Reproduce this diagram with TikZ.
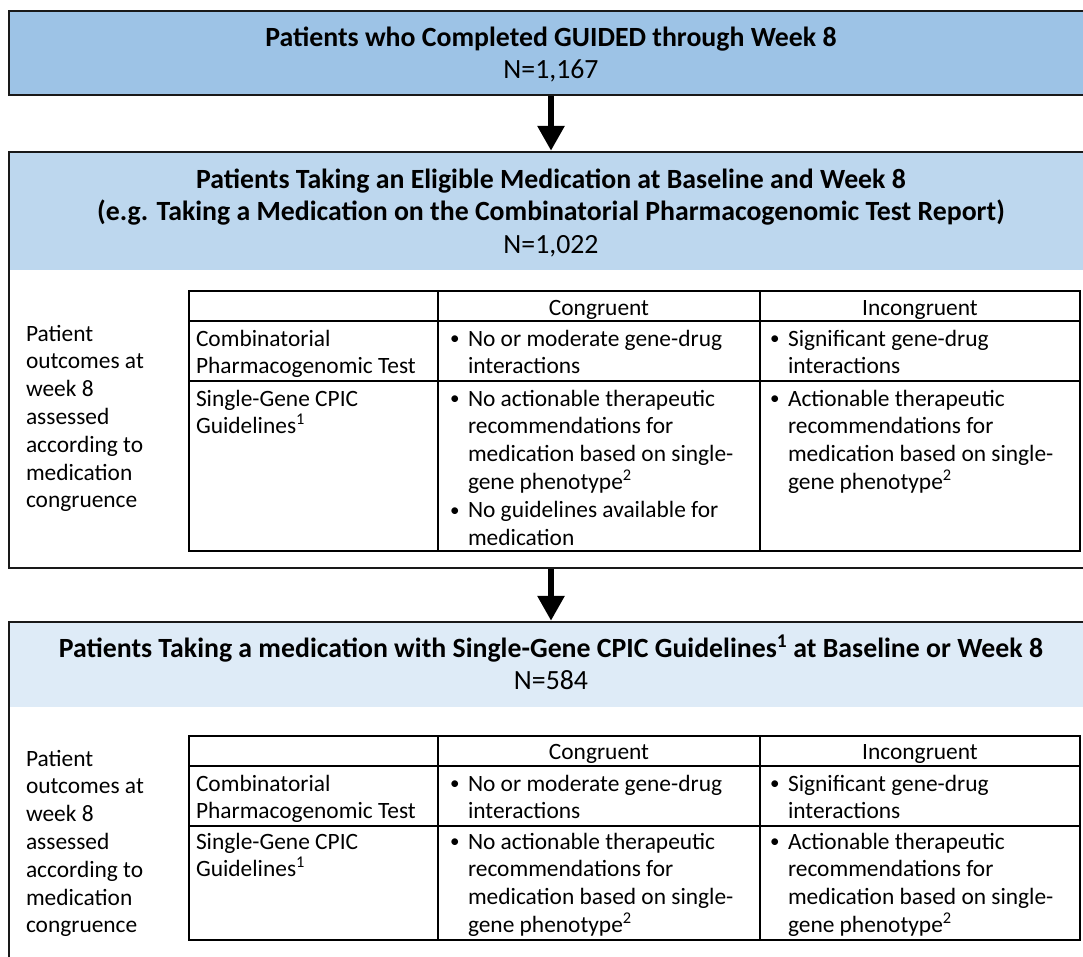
\documentclass[tikz,border=0pt]{standalone}
\usepackage{fontspec}
\setmainfont{Carlito}
\usetikzlibrary{arrows.meta}
\definecolor{hdA}{HTML}{9DC3E6}
\definecolor{hdB}{HTML}{BDD7EE}
\definecolor{hdC}{HTML}{DEEBF7}
\newcommand\bodyf{\fontsize{23.4}{27.8}\selectfont}
\newcommand\headf{\fontsize{27.8}{32.8}\selectfont}
\newcommand\bitem[1]{\par\hangindent=19pt\hangafter=1\noindent\makebox[19pt][l]{\hspace{1pt}\raisebox{1.2pt}{\fontsize{19}{19}\selectfont\textbullet}}{\let\\\newline #1}}
\newcommand\cellbox[2]{\parbox[t]{#1}{\raggedright\bodyf #2}}
\tikzset{
  bigbox/.style={draw=black!90, line width=2.5pt, minimum width=1084pt, inner sep=0pt},
  tline/.style={draw=black, line width=2pt},
  arr/.style={line width=6pt, -{Triangle[length=25pt,width=26pt]}},
  txt/.style={anchor=base west, inner sep=0pt, outer sep=0pt},
  ctxt/.style={anchor=base, inner sep=0pt, outer sep=0pt}
}
\begin{document}
\begin{tikzpicture}[x=1pt,y=-1pt]
\useasboundingbox (0,0) rectangle (1083,956);
\clip (0,0) rectangle (1083,956);
% header fills
\fill[hdB] (9,152) rectangle (1093,270);
\fill[hdC] (9,622) rectangle (1093,707);
% boxes
\node[bigbox, fill=hdA, minimum height=84pt] (b1) at (551,53) {};
\node[bigbox, minimum height=416pt] (b2) at (551,360) {};
\node[bigbox, minimum height=400pt] (b3) at (551,822) {};
% connectors
\draw[arr] (b1.south) -- (b2.north);
\draw[arr] (b2.south) -- (b3.north);
% headings
\node[ctxt] (h1) at (551,46) {\parbox[t]{1070pt}{\centering\headf\bfseries Patients who Completed GUIDED through Week 8\\\mdseries N=1,167}};
\node[ctxt] (h2) at (551,188) {\parbox[t]{1070pt}{\centering\headf\bfseries Patients Taking an Eligible Medication at Baseline and Week 8\\(e.g. Taking a Medication on the Combinatorial Pharmacogenomic Test Report)\\\mdseries N=1,022}};
\node[ctxt] (h3) at (551,657) {\parbox[t]{1070pt}{\centering\headf\bfseries Patients Taking a medication with Single-Gene CPIC Guidelines\textsuperscript{1} at Baseline or Week 8\\\mdseries N=584}};
% table 1
\draw[tline] (189,291) rectangle (1080,551);
\draw[tline] (189,321) -- (1080,321);
\draw[tline] (189,381) -- (1080,381);
\draw[tline] (438,291) -- (438,551);
\draw[tline] (760,291) -- (760,551);
\node[txt] (l1) at (26,341) {\cellbox{160pt}{Patient\\outcomes at\\week 8\\assessed\\according to\\medication\\congruence}};
\node[ctxt] (c1h2) at (599,315) {\bodyf Congruent};
\node[ctxt] (c1h3) at (920,315) {\bodyf Incongruent};
\node[txt] (c1a1) at (196,346) {\cellbox{240pt}{Combinatorial\\Pharmacogenomic Test}};
\node[txt] (c1a2) at (449,346) {\cellbox{305pt}{\bitem{No or moderate gene-drug\\interactions}}};
\node[txt] (c1a3) at (769,346) {\cellbox{305pt}{\bitem{Significant gene-drug\\interactions}}};
\node[txt] (c1b1) at (196,406) {\cellbox{240pt}{Single-Gene CPIC\\Guidelines\textsuperscript{1}}};
\node[txt] (c1b2) at (449,406) {\cellbox{305pt}{\bitem{No actionable therapeutic\\recommendations for\\medication based on single-\\gene phenotype\textsuperscript{2}}\bitem{No guidelines available for\\medication}}};
\node[txt] (c1b3) at (769,406) {\cellbox{305pt}{\bitem{Actionable therapeutic\\recommendations for\\medication based on single-\\gene phenotype\textsuperscript{2}}}};
% table 2
\draw[tline] (189,736) rectangle (1080,940);
\draw[tline] (189,766) -- (1080,766);
\draw[tline] (189,826) -- (1080,826);
\draw[tline] (438,736) -- (438,940);
\draw[tline] (760,736) -- (760,940);
\node[txt] (l2) at (26,766) {\cellbox{160pt}{Patient\\outcomes at\\week 8\\assessed\\according to\\medication\\congruence}};
\node[ctxt] (c2h2) at (599,759) {\bodyf Congruent};
\node[ctxt] (c2h3) at (920,759) {\bodyf Incongruent};
\node[txt] (c2a1) at (196,791) {\cellbox{240pt}{Combinatorial\\Pharmacogenomic Test}};
\node[txt] (c2a2) at (449,791) {\cellbox{305pt}{\bitem{No or moderate gene-drug\\interactions}}};
\node[txt] (c2a3) at (769,791) {\cellbox{305pt}{\bitem{Significant gene-drug\\interactions}}};
\node[txt] (c2b1) at (196,849) {\cellbox{240pt}{Single-Gene CPIC\\Guidelines\textsuperscript{1}}};
\node[txt] (c2b2) at (449,849) {\cellbox{305pt}{\bitem{No actionable therapeutic\\recommendations for\\medication based on single-\\gene phenotype\textsuperscript{2}}}};
\node[txt] (c2b3) at (769,849) {\cellbox{305pt}{\bitem{Actionable therapeutic\\recommendations for\\medication based on single-\\gene phenotype\textsuperscript{2}}}};
\end{tikzpicture}
\end{document}
